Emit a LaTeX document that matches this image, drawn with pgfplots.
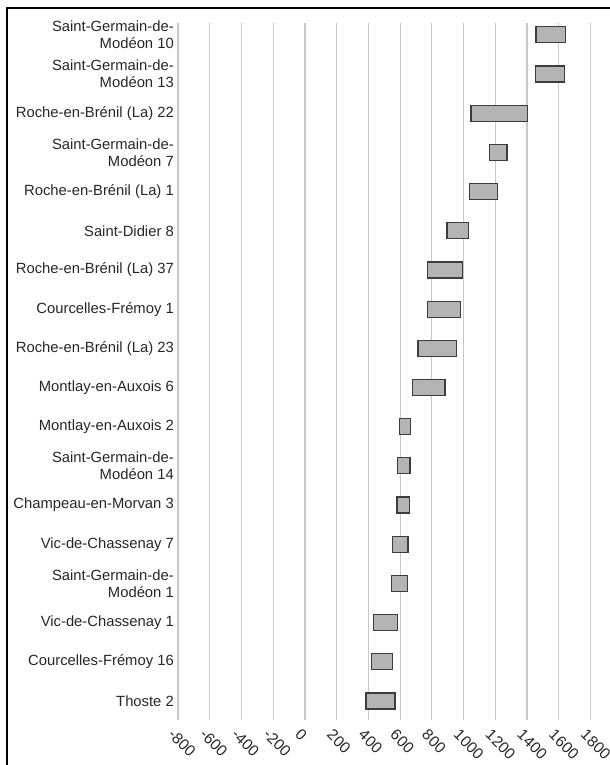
\documentclass[border=0pt]{standalone}
\usepackage{pgfplots}
\pgfplotsset{compat=1.18}
\usepackage{pgfplotstable}
\usepackage{fontspec}
\setmainfont{Liberation Sans}

\definecolor{barfill}{RGB}{180,180,180}
\definecolor{baredge}{RGB}{60,60,60}
\definecolor{gridgray}{RGB}{200,200,200}

% date ranges, bottom row first
\pgfplotstableread{
idx start end
0   385  568
1   421  553
2   431  585
3   547  645
4   551  650
5   580  661
6   585  662
7   595  667
8   680  883
9   713  957
10  774  980
11  774  992
12  896  1033
13  1039 1216
14  1163 1274
15  1047 1402
16  1451 1638
17  1457 1642
}\ranges

\begin{document}
\begin{tikzpicture}
\useasboundingbox (0,0) rectangle (610bp,765bp);
\draw[line width=1.6bp] (7bp,0) -- (7bp,757bp) -- (610bp,757bp);
\begin{axis}[
    at={(178bp,45bp)}, anchor=south west,
    scale only axis, width=412.5bp, height=697.3bp,
    xbar stacked, bar width=16bp,
    xmin=-800, xmax=1800,
    ymin=-0.485, ymax=17.31,
    xtick={-800,-600,...,1800},
    ytick={0,...,17},
    yticklabels={
        Thoste 2,
        Courcelles-Frémoy 16,
        Vic-de-Chassenay 1,
        {Saint-Germain-de-\\Modéon 1},
        Vic-de-Chassenay 7,
        Champeau-en-Morvan 3,
        {Saint-Germain-de-\\Modéon 14},
        Montlay-en-Auxois 2,
        Montlay-en-Auxois 6,
        Roche-en-Brénil (La) 23,
        Courcelles-Frémoy 1,
        Roche-en-Brénil (La) 37,
        Saint-Didier 8,
        Roche-en-Brénil (La) 1,
        {Saint-Germain-de-\\Modéon 7},
        Roche-en-Brénil (La) 22,
        {Saint-Germain-de-\\Modéon 13},
        {Saint-Germain-de-\\Modéon 10}
    },
    xmajorgrids,
    major grid style={gridgray, line width=1.2bp},
    axis line style={draw=none},
    major tick length=0pt,
    /pgf/number format/assume math mode=true,
    /pgf/number format/1000 sep={},
    yticklabel style={font=\fontsize{14.8bp}{17bp}\selectfont, text=black!85,
        align=right, anchor=east, inner sep=0pt, xshift=-4bp},
    xticklabel style={font=\fontsize{15.5bp}{17bp}\selectfont, text=black!85,
        inner sep=0pt, xshift=-3bp, yshift=-8bp, rotate=-45, anchor=north west},
]
\addplot[draw=none, fill=none, forget plot] table[x=start, y=idx] {\ranges};
\addplot[fill=barfill, draw=baredge, line width=1.2bp]
    table[x expr=\thisrow{end}-\thisrow{start}, y=idx] {\ranges};
\end{axis}
\end{tikzpicture}
\end{document}
